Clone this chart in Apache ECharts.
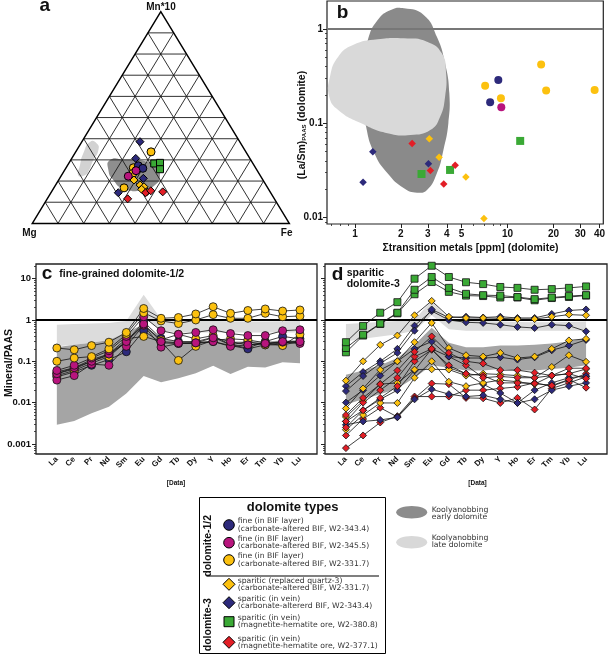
<!DOCTYPE html>
<html><head><meta charset="utf-8">
<script src="https://cdn.jsdelivr.net/npm/echarts@6/dist/echarts.min.js"></script>
<style>html,body{margin:0;padding:0;background:#fff}#c{width:608px;height:655px}</style>
</head><body><div id="c"></div>
<script>
// ---------------- DATA ----------------
const REE = ['La','Ce','Pr','Nd','Sm','Eu','Gd','Tb','Dy','Y','Ho','Er','Tm','Yb','Lu'];

// panel a: ternary [Mg, Fe, Mn*10] (%)
const ternBlueCircle   = [[45.1,27.6,27.2],[44.0,30.0,26.0]];
const ternMagCircle    = [[47.2,27.9,24.9],[51.5,26.2,22.3]];
const ternYelCircle    = [[36.9,29.3,33.8],[47.6,26.2,26.3],[49.1,27.3,23.6],[55.9,27.3,16.8]];
const ternYelDiamond   = [[50.2,29.3,20.5],[49.0,32.9,18.1],[47.9,34.8,17.3],[49.4,34.5,16.1],[48.0,37.1,14.9]];
const ternBlueDiamond  = [[38.8,22.6,38.6],[44.4,24.9,30.7],[46.2,32.6,21.3],[59.3,26.2,14.5]];
const ternGreenSquare  = [[38.4,33.3,28.3],[36.0,35.4,28.6],[37.5,36.9,25.6]];
const ternRedDiamond   = [[48.7,36.9,14.5],[46.2,38.4,15.4],[41.8,43.3,14.9],[57.1,31.3,11.6]];
const ternEarlyField   = [[54.8,15.3,29.9],[49.5,20.3,30.2],[40.9,30.0,29.1],[38.6,35.4,26.0],[38.9,38.3,22.8],[43.2,38.7,18.1],[49.0,35.3,15.7],[56.3,27.1,16.5],[58.3,21.3,20.5],[57.8,17.0,25.2]];
const ternLateField    = [[58.3,3.2,38.5],[56.1,6.2,37.8],[57.0,8.4,34.6],[61.3,8.8,29.9],[66.0,9.6,24.4],[68.1,9.1,22.8],[70.7,6.5,22.8],[67.7,4.8,27.5],[63.6,3.3,33.1]];

// panel b: [sum transition metals ppm, (La/Sm)PAAS]
const bYelCircle   = [[7.13,0.25],[16.6,0.42],[9.05,0.184],[17.9,0.222],[37.2,0.225]];
const bBlueCircle  = [[8.7,0.288],[7.69,0.167]];
const bMagCircle   = [[9.1,0.148]];
const bGreenSquare = [[12.1,0.065],[4.2,0.032],[2.73,0.029]];
const bRedDiamond  = [[2.37,0.061],[3.12,0.0315],[4.54,0.0358],[3.82,0.0227]];
const bYelDiamond  = [[3.07,0.0687],[3.56,0.0436],[5.33,0.027],[7.0,0.0098]];
const bBlueDiamond = [[1.31,0.05],[1.13,0.0237],[3.03,0.0373]];
const bEarlyField  = [[2.096,1.656],[2.822,1.408],[3.442,0.829],[3.896,0.4325],[4.155,0.2078],[4.094,0.0999],[3.8,0.0521],[3.442,0.0295],[2.966,0.01963],[2.556,0.01839],[2.096,0.02045],[1.635,0.0295],[1.341,0.0481],[1.184,0.0921],[1.127,0.1916],[1.138,0.3988],[1.214,0.764],[1.409,1.246],[1.718,1.591]];
const bLateField   = [[0.971,0.677],[1.409,0.777],[2.096,0.796],[2.966,0.734],[3.707,0.552],[3.955,0.3388],[3.896,0.1916],[3.616,0.1176],[3.117,0.0849],[2.314,0.0751],[1.635,0.0783],[1.099,0.0999],[0.777,0.1384],[0.679,0.1916],[0.686,0.3123],[0.777,0.509]];
const bXTicks = [1,2,3,4,5,10,20,30,40];
const bYTicks = [0.01,0.1,1];

// panel c: fine-grained dolomite-1/2 (mineral/PAAS)
const cBlue1 = [0.05,0.065,0.1,0.14,0.3,0.9,0.36,0.3,0.3,0.38,0.25,0.21,0.3,0.4,0.35];
const cBlue2 = [0.042,0.055,0.08,0.11,0.17,0.55,0.28,0.27,0.27,0.3,0.24,0.2,0.25,0.28,0.3];
const cMag1  = [0.06,0.08,0.12,0.18,0.4,1.2,0.55,0.45,0.5,0.58,0.47,0.42,0.42,0.55,0.58];
const cMag2  = [0.05,0.07,0.1,0.15,0.3,0.8,0.3,0.28,0.28,0.37,0.3,0.25,0.27,0.3,0.3];
const cMag3  = [0.035,0.045,0.085,0.08,0.23,0.75,0.22,0.27,0.28,0.3,0.23,0.25,0.27,0.29,0.27];
const cYel1  = [0.21,0.19,0.24,0.29,0.5,1.9,1.1,1.15,1.4,2.1,1.45,1.7,1.85,1.65,1.75];
const cYel2  = [0.1,0.12,0.13,0.2,0.45,1.5,0.95,0.82,1.0,1.35,1.1,1.1,1.45,1.2,1.25];
const cYel3  = [0.055,0.07,0.11,0.15,0.35,0.4,0.3,0.105,0.23,0.32,0.35,0.33,0.28,0.24,0.45];
const cYel4  = [0.045,0.06,0.09,0.13,0.3,0.75,0.33,0.45,0.35,0.42,0.25,0.3,0.25,0.25,0.3];
const cLateUpper  = [0.77,0.8,0.82,0.85,0.95,4.1,1.05,0.95,0.95,0.95,0.93,0.92,0.92,0.93,0.95];
const cLateLower  = [0.23,0.25,0.28,0.33,0.5,1.2,0.55,0.5,0.5,0.5,0.5,0.5,0.5,0.5,0.5];
const cEarlyUpper = [0.22,0.25,0.28,0.33,0.5,0.8,0.35,0.3,0.3,0.32,0.3,0.3,0.3,0.32,0.33];
const cEarlyLower = [0.0029,0.0036,0.0055,0.0079,0.0167,0.044,0.031,0.039,0.051,0.078,0.049,0.074,0.071,0.095,0.09];
const cdYTicks = [0.001,0.01,0.1,1,10];

// panel d: sparitic dolomite-3
const dGreen1 = [0.29,0.72,1.5,2.7,10,20.6,11,8.2,7.4,6.3,6.0,5.4,5.6,6.0,6.5];
const dGreen2 = [0.21,0.44,0.82,1.5,5.4,11,6.0,4.3,4.0,3.9,3.6,3.2,3.5,3.8,4.0];
const dGreen3 = [0.165,0.42,0.8,1.45,4.2,8.3,4.8,3.9,3.8,3.5,3.5,3.0,3.4,3.6,3.9];
const dYel1 = [0.034,0.10,0.25,0.42,1.3,2.9,1.2,1.12,1.12,1.1,1.05,1.05,1.2,1.35,1.3];
const dYel2 = [0.0072,0.022,0.062,0.1,0.29,0.85,0.21,0.14,0.13,0.16,0.12,0.13,0.2,0.32,0.35];
const dYel3 = [0.0045,0.011,0.028,0.03,0.063,0.064,0.063,0.045,0.05,0.048,0.045,0.04,0.073,0.14,0.097];
const dYel4 = [0.0022,0.005,0.0098,0.0098,0.04,0.1,0.032,0.025,0.03,0.035,0.032,0.028,0.045,0.05,0.065];
const dBlue1 = [0.019,0.044,0.089,0.16,0.55,1.8,1.15,1.2,1.15,1.2,1.12,1.12,1.4,1.7,1.8];
const dBlue2 = [0.025,0.055,0.1,0.2,0.73,1.65,1.0,0.88,0.85,0.77,0.68,0.64,0.77,0.73,0.53];
const dBlue3 = [0.01,0.02,0.045,0.1,0.2,0.3,0.13,0.12,0.12,0.125,0.11,0.125,0.185,0.24,0.33];
const dBlue4 = [0.0035,0.0065,0.012,0.02,0.06,0.2,0.07,0.05,0.028,0.017,0.0098,0.02,0.03,0.04,0.044];
const dBlue5 = [0.0029,0.0035,0.0038,0.0044,0.012,0.021,0.016,0.014,0.015,0.012,0.0098,0.012,0.02,0.025,0.03];
const dRed1 = [0.005,0.013,0.028,0.06,0.17,0.4,0.16,0.1,0.088,0.061,0.061,0.053,0.045,0.068,0.068];
const dRed2 = [0.0035,0.01,0.02,0.04,0.13,0.2,0.13,0.08,0.04,0.043,0.04,0.04,0.045,0.05,0.038];
const dRed3 = [0.0025,0.0065,0.013,0.025,0.1,0.19,0.08,0.05,0.045,0.03,0.03,0.029,0.026,0.036,0.023];
const dRed4 = [0.0016,0.004,0.0075,0.0045,0.0127,0.029,0.028,0.013,0.0127,0.0098,0.013,0.0068,0.022,0.03,0.042];
const dRed5 = [0.00079,0.0016,0.0033,0.0047,0.014,0.014,0.014,0.02,0.02,0.022,0.024,0.03,0.025,0.035,0.05];
const dLateUpper  = [0.8,0.85,0.9,0.95,1.0,3.0,1.0,0.95,0.95,0.92,0.9,0.88,0.88,0.9,0.92];
const dLateLower  = [0.3,0.35,0.4,0.45,0.55,1.3,0.6,0.55,0.55,0.55,0.55,0.55,0.55,0.55,0.55];
const dEarlyUpper = [0.047,0.06,0.08,0.12,0.25,0.65,0.28,0.22,0.22,0.24,0.24,0.25,0.27,0.3,0.36];
const dEarlyLower = [0.009,0.012,0.016,0.022,0.04,0.08,0.07,0.06,0.06,0.065,0.06,0.06,0.065,0.07,0.08];

const legendLabels = [
  'fine (in BIF layer)\n(carbonate-altered BIF, W2-343.4)',
  'fine (in BIF layer)\n(carbonate-altered BIF, W2-345.5)',
  'fine (in BIF layer)\n(carbonate-altered BIF, W2-331.7)',
  'sparitic (replaced quartz-3)\n(carbonate-altered BIF, W2-331.7)',
  'sparitic (in vein)\n(carbonate-altererd BIF, W2-343.4)',
  'sparitic (in vein)\n(magnetite-hematite ore, W2-380.8)',
  'sparitic (in vein)\n(magnetite-hematite ore, W2-377.1)'
];

// ---------------- STYLE ----------------
const FONT = '"Liberation Sans", Arial, sans-serif';
const LFONT = '"DejaVu Sans", sans-serif';
const COL = {blue:'#2d2a7b', mag:'#b8147d', yel:'#fcc10f', grn:'#3aa935', red:'#e21e26',
  darkA:'#8e8e8e', lightA:'#d2d2d2', darkB:'#8a8a8a', lightB:'#d9d9d9', darkC:'#a5a5a5', lightC:'#dcdcdc'};

const tern = (mg, fe, mn) => { const s = mg + fe + mn; const f = fe / s, m = mn / s; return [f + m / 2, m]; };
const fmt = v => String(+Number(v).toPrecision(4));
const minorLog = (lo, hi, skip) => { const out = []; for (let d = -4; d <= 2; d++) for (let m = 2; m <= 9; m++) { const v = +(m * Math.pow(10, d)).toPrecision(3); if (v > lo && v < hi && skip.indexOf(v) < 0) out.push(v); } return out; };

const bX = [0.656, 42.4], bY = [0.00855, 1.98], cdY = [0.000569, 22.7];
const idx = REE.map((_, i) => i);

function polySeries(xi, yi, pts, color, z, smooth) {
  return { type:'custom', coordinateSystem:'cartesian2d', xAxisIndex:xi, yAxisIndex:yi, silent:true, z,
    data:[pts[0]],
    renderItem: (p, api) => ({ type:'polygon', shape:{ points: pts.map(q => api.coord(q)), smooth: smooth || 0 }, style:{ fill: color } }) };
}
function bandSeries(xi, yi, upper, lower, color, z) {
  return { type:'custom', coordinateSystem:'cartesian2d', xAxisIndex:xi, yAxisIndex:yi, silent:true, z,
    data:[[0, upper[0]]],
    renderItem: (p, api) => {
      const pts = upper.map((v, i) => api.coord([i, v])).concat(lower.map((v, i) => api.coord([i, v])).reverse());
      return { type:'polygon', shape:{ points: pts }, style:{ fill: color } };
    } };
}
function ternScatter(arr, sym, color, size) {
  return { type:'scatter', xAxisIndex:0, yAxisIndex:0, z:4, symbol:sym, symbolSize:size,
    data: arr.map(p => tern(p[0], p[1], p[2])),
    itemStyle:{ color, borderColor:'#000', borderWidth:1, opacity:1 } };
}
function bScatter(arr, sym, color, size) {
  return { type:'scatter', xAxisIndex:1, yAxisIndex:1, z:4, symbol:sym, symbolSize:size, data:arr,
    itemStyle:{ color, opacity:1 } };
}
function reeLine(xi, yi, vals, sym, color, size) {
  return { type:'line', xAxisIndex:xi, yAxisIndex:yi, z:5, symbol:sym, symbolSize:size, showSymbol:true,
    data: vals.map((v, i) => [i, v]),
    lineStyle:{ color:'#111', width:0.8 },
    itemStyle:{ color, borderColor:'#111', borderWidth:0.8 } };
}

// ternary grid segments
const segs = [];
for (let i = 1; i < 10; i++) {
  const t = i / 10;
  segs.push(tern(1 - t, 0, t).concat(tern(0, 1 - t, t)));
  segs.push(tern(1 - t, t, 0).concat(tern(0, t, 1 - t)));
  segs.push(tern(t, 1 - t, 0).concat(tern(t, 0, 1 - t)));
}
const triangle = [tern(1,0,0), tern(0,1,0), tern(0,0,1)];

const labelStyle = { fontFamily: FONT, fontWeight:'bold', color:'#111' };
function logAxis(grid, ext, major, labels, lab, pos) {
  return [
    { gridIndex:grid, type:'log', position:pos, min:ext[0], max:ext[1], axisLine:{show:false, onZero:false}, splitLine:{show:false},
      axisTick:{ show:true, customValues:major, length:4, lineStyle:{color:'#222', width:1} },
      axisLabel: labels ? Object.assign({ customValues:major, formatter:fmt, margin:4 }, labelStyle, lab) : { show:false } },
    { gridIndex:grid, type:'log', position:pos, min:ext[0], max:ext[1], axisLine:{show:false, onZero:false}, splitLine:{show:false},
      axisTick:{ show:true, customValues:minorLog(ext[0], ext[1], major), length:2, lineStyle:{color:'#222', width:0.8} },
      axisLabel:{ show:false } }
  ];
}
function reeXAxis(grid, min, max) {
  return { gridIndex:grid, type:'value', position:'bottom', min, max, axisLine:{show:false, onZero:false}, splitLine:{show:false}, axisTick:{show:false},
    axisLabel: Object.assign({ customValues:idx, formatter: v => REE[Math.round(v)], rotate:45, fontSize:8, margin:4 }, labelStyle) };
}

const bXAxes = logAxis(1, bX, bXTicks, true, { fontSize:10, margin:5 }, 'bottom');
const bYAxes = logAxis(1, bY, bYTicks, true, { fontSize:10 }, 'left');
const cYAxes = logAxis(2, cdY, cdYTicks, true, { fontSize:9.5, margin:5 }, 'left');
const dYAxes = logAxis(3, cdY, cdYTicks, false, null, 'left');

function T(text, x, y, size, o) {
  o = o || {};
  return { type:'text', x, y, rotation:o.rot || 0, z:100, silent:true,
    style:{ text, fontSize:size, fontWeight:o.w || 'bold', fontFamily:o.font || FONT, fill:o.fill || '#111',
      align:o.align || 'center', verticalAlign:'middle', lineHeight:o.lh, rich:o.rich } };
}

// legend graphics
const legendSyms = [['circle',COL.blue],['circle',COL.mag],['circle',COL.yel],['diamond',COL.yel],['diamond',COL.blue],['square',COL.grn],['diamond',COL.red]];
const legendY = [525, 542.7, 560, 584.3, 602.7, 621.7, 642.3];
const legendEls = [
  { type:'rect', shape:{x:199.5, y:497.5, width:186, height:156}, style:{fill:'none', stroke:'#000', lineWidth:1}, z:100 },
  T('dolomite types', 292.7, 507.5, 13),
  { type:'line', shape:{x1:206.5, y1:576, x2:379, y2:576}, style:{stroke:'#000', lineWidth:1.2}, z:100 },
  T('dolomite-1/2', 208.3, 545.8, 10.5, {rot:Math.PI/2}),
  T('dolomite-3', 208.3, 624.7, 10.5, {rot:Math.PI/2})
];
const LT = {align:'left', w:'normal', fill:'#333', lh:7.5, font:LFONT};
legendSyms.forEach((s, i) => {
  const cx = 229, cy = legendY[i];
  const st = { fill:s[1], stroke:'#000', lineWidth:1 };
  if (s[0] === 'circle') legendEls.push({ type:'circle', shape:{cx, cy, r:5.3}, style:st, z:100 });
  else if (s[0] === 'square') legendEls.push({ type:'rect', shape:{x:cx-5, y:cy-5, width:10, height:10}, style:st, z:100 });
  else legendEls.push({ type:'polygon', shape:{points:[[cx,cy-6],[cx+6,cy],[cx,cy+6],[cx-6,cy]]}, style:st, z:100 });
  legendEls.push(T(legendLabels[i], 237.7, cy, 7.7, LT));
});
legendEls.push(
  { type:'ellipse', shape:{cx:411.7, cy:512.3, rx:15.5, ry:6.2}, style:{fill:'#8c8c8c'}, z:100 },
  { type:'ellipse', shape:{cx:411.7, cy:542.3, rx:15.5, ry:6.2}, style:{fill:'#d8d8d8'}, z:100 },
  T('Koolyanobbing\nearly dolomite', 431.7, 513.3, 7.7, LT),
  T('Koolyanobbing\nlate dolomite', 431.7, 541.7, 7.7, LT)
);

const option = {
  animation:false,
  backgroundColor:'#fff',
  grid:[
    { left:32.3, top:11.7, width:257, height:211.7, show:false },
    { left:327, top:1, width:280, height:223, show:true, borderColor:'#222', borderWidth:1.2 },
    { left:36, top:264, width:281, height:190, show:true, borderColor:'#222', borderWidth:1.3 },
    { left:325, top:264, width:282, height:190, show:true, borderColor:'#222', borderWidth:1.3 }
  ],
  xAxis:[
    { gridIndex:0, type:'value', min:0, max:1, show:false },
    bXAxes[0],
    bXAxes[1],
    reeXAxis(2, -1.2, 14.98),
    reeXAxis(3, -1.22, 15.22)
  ],
  yAxis:[
    { gridIndex:0, type:'value', min:0, max:1, show:false },
    bYAxes[0], bYAxes[1],
    cYAxes[0], cYAxes[1],
    dYAxes[0], dYAxes[1]
  ],
  series:[
    // panel a
    polySeries(0, 0, ternLateField.map(p => tern(p[0], p[1], p[2])), COL.lightA, 1, 0.6),
    polySeries(0, 0, ternEarlyField.map(p => tern(p[0], p[1], p[2])), COL.darkA, 1, 0.6),
    { type:'custom', coordinateSystem:'cartesian2d', xAxisIndex:0, yAxisIndex:0, silent:true, z:2,
      data:segs,
      renderItem:(p, api) => { const a = api.coord([api.value(0), api.value(1)]), b = api.coord([api.value(2), api.value(3)]);
        return { type:'line', shape:{x1:a[0], y1:a[1], x2:b[0], y2:b[1]}, style:{stroke:'#1a1a1a', lineWidth:0.9} }; } },
    { type:'custom', coordinateSystem:'cartesian2d', xAxisIndex:0, yAxisIndex:0, silent:true, z:2,
      data:[triangle[0]],
      renderItem:(p, api) => ({ type:'polygon', shape:{points:triangle.map(q => api.coord(q))}, style:{fill:'none', stroke:'#000', lineWidth:1.5} }) },
    ternScatter(ternBlueDiamond, 'diamond', COL.blue, 8),
    ternScatter(ternYelCircle, 'circle', COL.yel, 8),
    ternScatter(ternBlueCircle, 'circle', COL.blue, 8),
    ternScatter(ternMagCircle, 'circle', COL.mag, 8),
    ternScatter(ternGreenSquare, 'rect', COL.grn, 7),
    ternScatter(ternYelDiamond, 'diamond', COL.yel, 8),
    ternScatter(ternRedDiamond, 'diamond', COL.red, 8),
    // panel b
    polySeries(1, 1, bEarlyField, COL.darkB, 1, 0.5),
    polySeries(1, 1, bLateField, COL.lightB, 2, 0.5),
    { type:'scatter', xAxisIndex:1, yAxisIndex:1, z:3, data:[], silent:true,
      markLine:{ silent:true, symbol:'none', label:{show:false}, data:[{yAxis:1}], lineStyle:{color:'#777', width:2, type:'solid'} } },
    bScatter(bYelCircle, 'circle', COL.yel, 8),
    bScatter(bBlueCircle, 'circle', COL.blue, 8),
    bScatter(bMagCircle, 'circle', COL.mag, 8),
    bScatter(bGreenSquare, 'rect', COL.grn, 8),
    bScatter(bRedDiamond, 'diamond', COL.red, 7.5),
    bScatter(bYelDiamond, 'diamond', COL.yel, 7.5),
    bScatter(bBlueDiamond, 'diamond', COL.blue, 7.5),
    // panel c
    bandSeries(3, 3, cLateUpper, cLateLower, COL.lightC, 1),
    bandSeries(3, 3, cEarlyUpper, cEarlyLower, COL.darkC, 1),
    { type:'scatter', xAxisIndex:3, yAxisIndex:3, z:3, data:[], silent:true,
      markLine:{ silent:true, symbol:'none', label:{show:false}, data:[{yAxis:1}], lineStyle:{color:'#000', width:2, type:'solid'} } },
    reeLine(3, 3, cBlue1, 'circle', COL.blue, 8),
    reeLine(3, 3, cBlue2, 'circle', COL.blue, 8),
    reeLine(3, 3, cYel4, 'circle', COL.yel, 8),
    reeLine(3, 3, cYel3, 'circle', COL.yel, 8),
    reeLine(3, 3, cMag3, 'circle', COL.mag, 8),
    reeLine(3, 3, cMag2, 'circle', COL.mag, 8),
    reeLine(3, 3, cMag1, 'circle', COL.mag, 8),
    reeLine(3, 3, cYel2, 'circle', COL.yel, 8),
    reeLine(3, 3, cYel1, 'circle', COL.yel, 8),
    // panel d
    bandSeries(4, 5, dLateUpper, dLateLower, COL.lightC, 1),
    bandSeries(4, 5, dEarlyUpper, dEarlyLower, COL.darkC, 1),
    { type:'scatter', xAxisIndex:4, yAxisIndex:5, z:3, data:[], silent:true,
      markLine:{ silent:true, symbol:'none', label:{show:false}, data:[{yAxis:1}], lineStyle:{color:'#000', width:2, type:'solid'} } },
    reeLine(4, 5, dRed5, 'diamond', COL.red, 7),
    reeLine(4, 5, dRed4, 'diamond', COL.red, 7),
    reeLine(4, 5, dBlue5, 'diamond', COL.blue, 7),
    reeLine(4, 5, dBlue4, 'diamond', COL.blue, 7),
    reeLine(4, 5, dYel4, 'diamond', COL.yel, 7),
    reeLine(4, 5, dYel3, 'diamond', COL.yel, 7),
    reeLine(4, 5, dRed3, 'diamond', COL.red, 7),
    reeLine(4, 5, dRed2, 'diamond', COL.red, 7),
    reeLine(4, 5, dBlue3, 'diamond', COL.blue, 7),
    reeLine(4, 5, dYel2, 'diamond', COL.yel, 7),
    reeLine(4, 5, dRed1, 'diamond', COL.red, 7),
    reeLine(4, 5, dBlue2, 'diamond', COL.blue, 7),
    reeLine(4, 5, dBlue1, 'diamond', COL.blue, 7),
    reeLine(4, 5, dYel1, 'diamond', COL.yel, 7),
    reeLine(4, 5, dGreen3, 'rect', COL.grn, 7),
    reeLine(4, 5, dGreen2, 'rect', COL.grn, 7),
    reeLine(4, 5, dGreen1, 'rect', COL.grn, 7)
  ],
  graphic:{ elements:[
    T('a', 44.7, 5.5, 19),
    T('Mn*10', 161, 7.3, 10),
    T('Mg', 29.5, 233.3, 10),
    T('Fe', 286.7, 233.3, 10),
    T('b', 342.5, 12.7, 19),
    T('(La/Sm){s|PAAS} (dolomite)', 302, 125, 10.5, {rot:Math.PI/2, rich:{s:{fontSize:6, fontWeight:'bold', fontFamily:FONT, fill:'#111', padding:[5,0,0,0]}}}),
    T('\u03a3transition metals [ppm] (dolomite)', 470.5, 248.5, 10.5),
    T('c', 47, 274.1, 19),
    T('fine-grained dolomite-1/2', 59.3, 274.3, 10.5, {align:'left'}),
    T('Mineral/PAAS', 9, 363, 10.5, {rot:Math.PI/2}),
    T('d', 337.5, 275.1, 19),
    T('sparitic', 346.7, 272.7, 10.5, {align:'left'}),
    T('dolomite-3', 346.7, 284.3, 10.5, {align:'left'}),
    T('[Data]', 176, 483.7, 6.5),
    T('[Data]', 477.5, 483.7, 6.5)
  ].concat(legendEls) }
};

const chart = echarts.init(document.getElementById('c'), null, { renderer:'canvas' });
chart.setOption(option);
</script>
</body></html>
